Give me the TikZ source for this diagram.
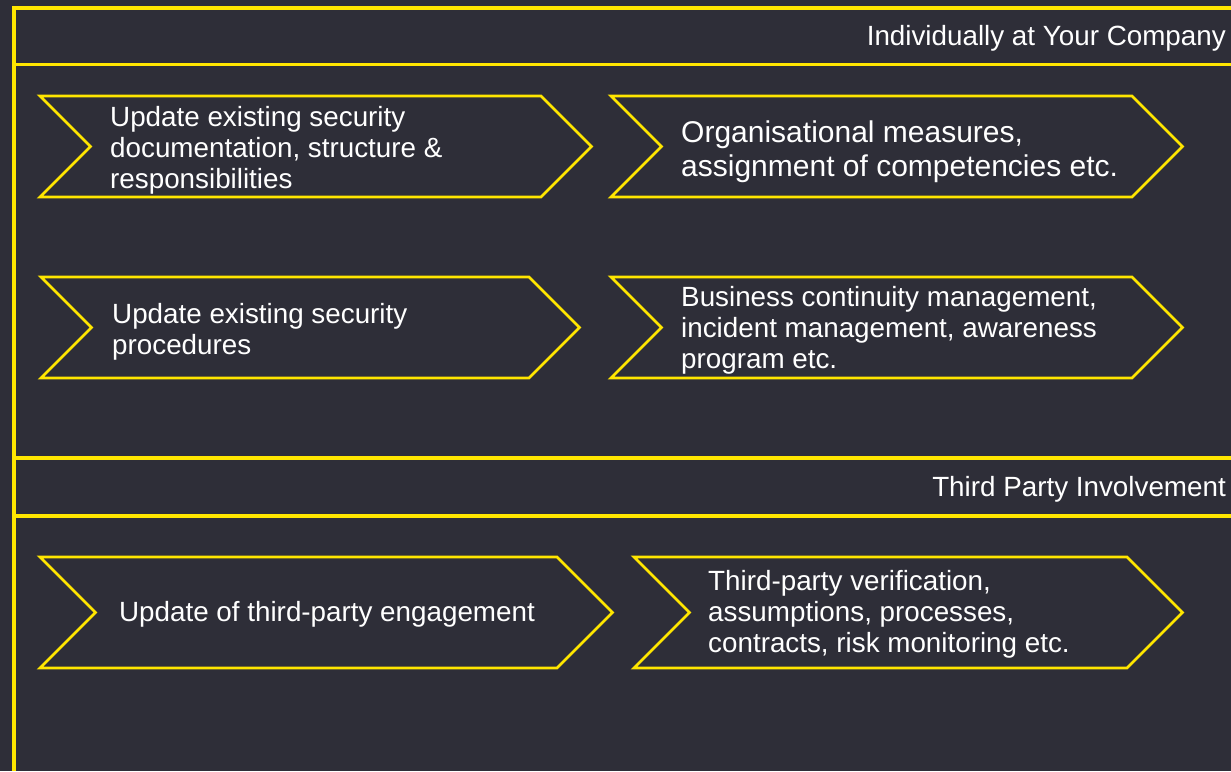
\documentclass[tikz,border=0pt]{standalone}
\usepackage{fontspec}
\setmainfont{Liberation Sans}
\definecolor{eyyellow}{HTML}{FFE600}
\definecolor{eydark}{HTML}{2E2E38}
\tikzset{
	band/.style={draw=eyyellow, line width=3.2pt},
	chev/.style={draw=eyyellow, line width=2.7pt, line join=miter},
	lbl/.style={text=white, inner sep=0pt, align=left,
		font=\fontsize{27.8}{31}\selectfont},
	biglbl/.style={lbl, font=\fontsize{30}{34}\selectfont},
}
% chevron: left x, corner x, top y, bottom y
\newcommand{\chevshape}[4]{%
	\draw[chev] (#1,#3) -- (#2,#3) -- ({#2+(#4-#3)/2},{(#3+#4)/2})
		-- (#2,#4) -- (#1,#4) -- ({#1+(#4-#3)/2},{(#3+#4)/2}) -- cycle;}
\begin{document}
\begin{tikzpicture}[x=1pt, y=-1pt]
	\useasboundingbox[fill=eydark] (0,0) rectangle (1231,771);
	% Rahmen
	\draw[band] (1231,8) -- (14,8) -- (14,771);
	\draw[band] (14,64.5) -- (1231,64.5);
	\draw[band] (14,458) -- (1231,458);
	\draw[band] (14,516) -- (1231,516);
	\node[lbl, anchor=east] (own) at (1226,38) {Individually at Your Company};
	\node[lbl, anchor=east] (third) at (1226,489) {Third Party Involvement};
	% Pfeile
	\chevshape{40}{541}{96}{197}
	\chevshape{611}{1132}{96}{197}
	\chevshape{41}{529}{277}{378}
	\chevshape{611}{1132}{277}{378}
	\chevshape{40}{557}{557}{668}
	\chevshape{634}{1127}{557}{668}
	% Texte
	\node[lbl, anchor=west] (docs) at (110,150)
		{Update existing security\\documentation, structure \&\\responsibilities};
	\node[biglbl, anchor=west] (orgm) at (681,152)
		{Organisational measures,\\assignment of competencies etc.};
	\node[lbl, anchor=west] (proc) at (112,332)
		{Update existing security\\procedures};
	\node[lbl, anchor=west] (bcm) at (681,330)
		{Business continuity management,\\incident management, awareness\\program etc.};
	\node[lbl] (engage) at (327,614) {Update of third-party engagement};
	\node[lbl, anchor=west] (verif) at (708,614)
		{Third-party verification,\\assumptions, processes,\\contracts, risk monitoring etc.};
\end{tikzpicture}
\end{document}
